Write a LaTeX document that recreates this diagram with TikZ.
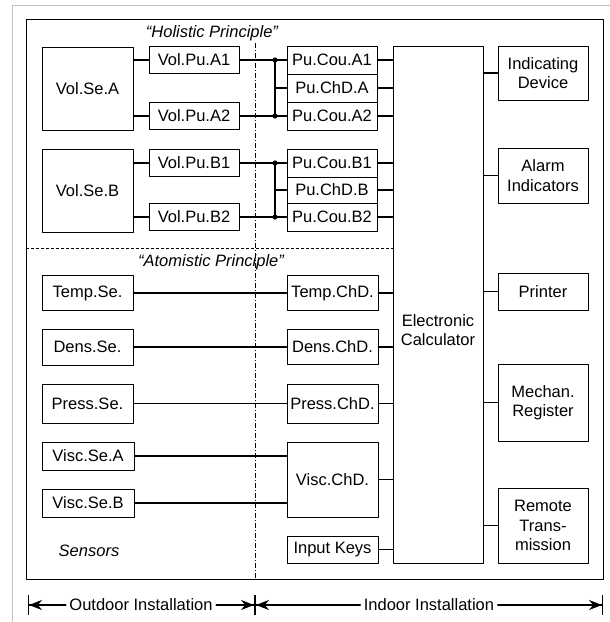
\documentclass[tikz,border=0pt]{standalone}
\usepackage{fontspec}
\setmainfont{Liberation Sans}
\usetikzlibrary{arrows.meta}

\begin{document}
\begin{tikzpicture}[x=1pt, y=-1pt, line join=round, line cap=round,
	every node/.style={font=\fontsize{16.5}{19.5}\selectfont},
	box/.style={draw, line width=0.8pt, inner sep=0pt, align=center},
	sz/.style 2 args={minimum width=#1, minimum height=#2},
	conn/.style={line width=1.1pt},
	dimtip/.style={-{Stealth[length=13pt,width=10pt]Bar[width=20pt,line width=1pt]}},
	declare function={bus=275; sep=255;}]
	
	\useasboundingbox (0,0) rectangle (610,622);
	\draw[gray!50, line width=1pt] (12,622) -- (12,5) -- (610,5);
	\draw[line width=1pt] (26,19) rectangle (603,579);
	
	% volume sensors and pulse counters
	\node[box, sz={91}{83}] (vsa) at (87.5,88.5) {Vol.Se.A};
	\node[box, sz={91}{83}] (vsb) at (87.5,190.5) {Vol.Se.B};
	\node[box, sz={90}{27}] (vpa1) at (194,60) {Vol.Pu.A1};
	\node[box, sz={90}{27}] (vpa2) at (194,116) {Vol.Pu.A2};
	\node[box, sz={90}{27}] (vpb1) at (194,163) {Vol.Pu.B1};
	\node[box, sz={90}{27}] (vpb2) at (194,217) {Vol.Pu.B2};
	\node[box, sz={90}{28}] (pca1) at (332,60) {Pu.Cou.A1};
	\node[box, sz={90}{28}] (pcda) at (332,88) {Pu.ChD.A};
	\node[box, sz={90}{28}] (pca2) at (332,116) {Pu.Cou.A2};
	\node[box, sz={90}{28}] (pcb1) at (332,163) {Pu.Cou.B1};
	\node[box, sz={90}{26}] (pcdb) at (332,190) {Pu.ChD.B};
	\node[box, sz={90}{28}] (pcb2) at (332,217) {Pu.Cou.B2};
	
	% single sensors and check devices
	\node[box, sz={91}{35}] (temps) at (87.5,293) {Temp.Se.};
	\node[box, sz={91}{36}] (denss) at (87.5,347) {Dens.Se.};
	\node[box, sz={91}{39}] (press) at (87.5,403.5) {Press.Se.};
	\node[box, sz={92}{28}] (viscsa) at (88,456) {Visc.Se.A};
	\node[box, sz={92}{28}] (viscsb) at (88,503) {Visc.Se.B};
	\node[box, sz={91}{35}] (tempd) at (332.5,293) {Temp.ChD.};
	\node[box, sz={91}{35}] (densd) at (332.5,347) {Dens.ChD.};
	\node[box, sz={91}{39}] (pressd) at (332.5,403.5) {Press.ChD.};
	\node[box, sz={91}{75}] (viscd) at (332.5,479.5) {Visc.ChD.};
	\node[box, sz={91}{27}] (keys) at (332.5,549.5) {Input Keys};
	
	% calculator and outputs
	\node[box, sz={90}{517}] (calc) at (438,304.5) {};
	\node[align=center] (calctext) at (438,330) {Electronic\\Calculator};
	\node[box, sz={90}{54}] (ind) at (543,73) {Indicating\\Device};
	\node[box, sz={90}{55}] (alarm) at (543,175.5) {Alarm\\Indicators};
	\node[box, sz={90}{37}] (printer) at (543,291.5) {Printer};
	\node[box, sz={90}{77}] (mech) at (543,402.5) {Mechan.\\Register};
	\node[box, sz={90}{75}] (remote) at (543,525.5) {Remote\\Trans-\\mission};
	
	\node (holistic) at (212,33) {\itshape “Holistic Principle”};
	\node (atomistic) at (211,262) {\itshape “Atomistic Principle”};
	\node (sensors) at (89,551) {\itshape Sensors};
	
	% dividing lines
	\draw[line width=0.6pt, line cap=butt, dash pattern=on 3pt off 2pt] (26,248) -- (calc.west |- 26,248);
	\draw[line width=0.6pt, line cap=butt, dash pattern=on 5pt off 2pt on 1pt off 2pt] (sep,43) -- (sep,579);
	
	% pulse lines
	\foreach \se/\pu in {vsa/vpa1, vsa/vpa2, vsb/vpb1, vsb/vpb2}
		\draw[conn] (\se.east |- \pu) -- (\pu);
	\foreach \pu/\co in {vpa1/pca1, vpa2/pca2, vpb1/pcb1, vpb2/pcb2} {
		\coordinate (j\co) at (bus,0 |- \co);
		\draw[conn] (\pu) -- (j\co) -- (\co);
		\fill (j\co) circle (2.6);
	}
	\draw[conn] (jpca1) -- (jpca2);
	\draw[conn] (jpcb1) -- (jpcb2);
	\draw[conn] (jpca1 |- pcda) -- (pcda);
	\draw[conn] (jpcb1 |- pcdb) -- (pcdb);
	
	% sensor lines
	\foreach \se/\ch in {temps/tempd, denss/densd, press/pressd, viscsa/viscd, viscsb/viscd}
		\draw[conn] (\se) -- (\se -| \ch.west);
	
	% into and out of the calculator
	\foreach \n in {pca1, pcda, pca2, pcb1, pcdb, pcb2, tempd, densd, pressd, viscd, keys}
		\draw[conn] (\n) -- (\n -| calc.west);
	\foreach \n in {ind, alarm, printer, mech, remote}
		\draw[conn] (calc.east |- \n) -- (\n);
	
	% installation dimensions
	\node (outdoor) at (141,605) {Outdoor Installation};
	\node (indoor) at (429,605) {Indoor Installation};
	\coordinate (lb) at (28,605);
	\coordinate (mb) at (sep,605);
	\coordinate (rb) at (603,605);
	\draw[conn, dimtip] (outdoor) -- (lb);
	\draw[conn, dimtip] (outdoor) -- (mb);
	\draw[conn, dimtip] (indoor) -- (mb);
	\draw[conn, dimtip] (indoor) -- (rb);
	
\end{tikzpicture}
\end{document}
